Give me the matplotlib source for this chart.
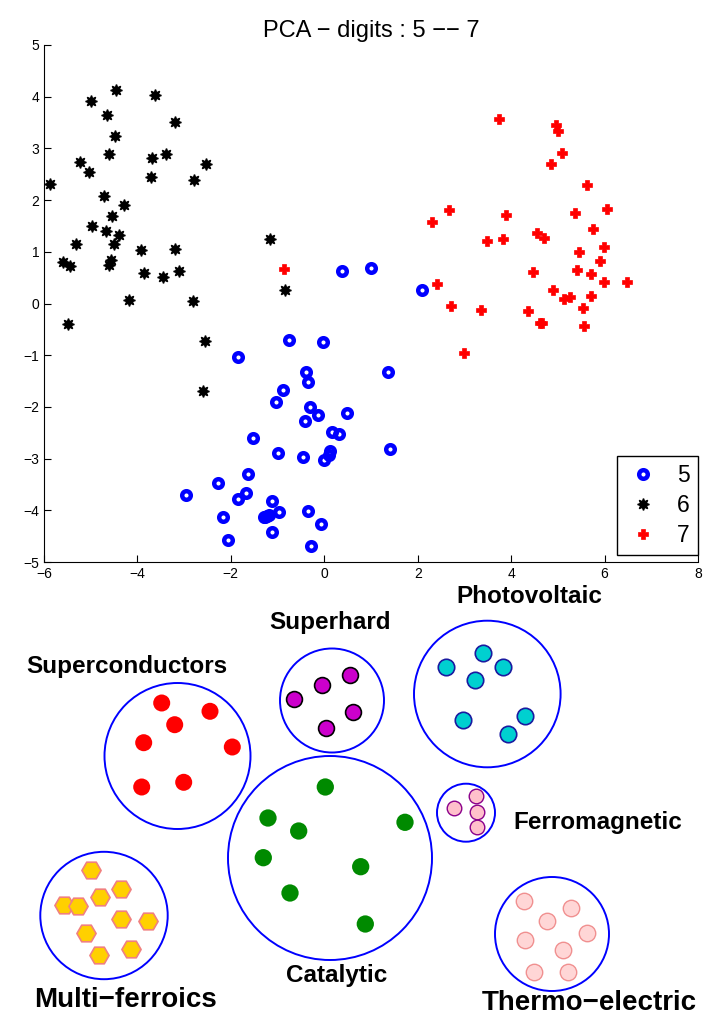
import matplotlib
matplotlib.use("Agg")
import matplotlib.pyplot as plt
from matplotlib.patches import Circle

plt.rcParams['font.family'] = ['Liberation Sans', 'DejaVu Sans']

# ---- PCA scatter data ----
x5 = [-0.76, -0.03, -1.84, -0.40, -0.34, 1.37, -0.89, -1.03, -0.31, -0.13, 0.48, -0.42,
      0.17, 0.31, -1.52, -1.00, -0.46, 0.13, 0.11, 0.00, 1.41, -1.64, -2.27, -2.95,
      -1.67, -1.85, -1.11, -0.96, -1.30, -1.23, -1.27, -1.18, -0.35, -2.16, -0.07,
      -1.12, -2.06, -0.29, 0.38, 0.99, 2.10]
y5 = [-0.70, -0.75, -1.04, -1.32, -1.51, -1.33, -1.68, -1.90, -2.00, -2.15, -2.12, -2.28,
      -2.49, -2.52, -2.61, -2.90, -2.96, -2.85, -2.94, -3.02, -2.82, -3.29, -3.48, -3.70,
      -3.66, -3.78, -3.82, -4.04, -4.13, -4.11, -4.12, -4.10, -4.01, -4.12, -4.27,
      -4.42, -4.57, -4.69, 0.63, 0.68, 0.27]

x6 = [-5.88, -5.00, -4.45, -3.62, -4.66, -4.48, -3.20, -5.24, -5.03, -4.60, -3.69, -3.38,
      -3.72, -2.79, -2.53, -4.71, -4.29, -4.55, -4.98, -4.68, -4.40, -4.51, -5.31, -5.60,
      -5.45, -4.57, -4.61, -3.93, -3.86, -3.45, -3.19, -3.10, -4.18, -2.80, -5.49, -2.56,
      -2.60, -1.16, -0.84]
y6 = [2.32, 3.91, 4.13, 4.04, 3.64, 3.24, 3.51, 2.73, 2.55, 2.90, 2.82, 2.90,
      2.45, 2.39, 2.69, 2.08, 1.90, 1.70, 1.50, 1.40, 1.33, 1.15, 1.15, 0.81,
      0.73, 0.85, 0.75, 1.03, 0.59, 0.52, 1.06, 0.62, 0.06, 0.05, -0.40, -0.72,
      -1.70, 1.24, 0.26]

x7 = [3.75, 4.95, 5.00, 5.09, 4.85, 5.62, 2.68, 2.30, 3.90, 5.36, 6.05, 5.76, 3.48, 3.83,
      4.55, 4.70, 5.98, 5.45, 5.91, 5.42, 5.70, 4.46, 5.98, 6.47, 2.42, 4.89, 5.70, 5.13,
      5.26, 2.71, 3.36, 4.36, 5.54, 4.62, 4.66, 5.57, 3.00, -0.86]
y7 = [3.57, 3.46, 3.33, 2.91, 2.70, 2.29, 1.81, 1.57, 1.72, 1.75, 1.82, 1.44, 1.21, 1.24,
      1.36, 1.26, 1.10, 0.99, 0.83, 0.64, 0.57, 0.61, 0.42, 0.41, 0.37, 0.26, 0.14, 0.08,
      0.12, -0.04, -0.12, -0.14, -0.08, -0.38, -0.38, -0.43, -0.95, 0.66]

# ---- material-class diagram (pixel layout of the lower panel) ----
group_names = ['Superconductors', 'Superhard', 'Photovoltaic', 'Catalytic',
               'Ferromagnetic', 'Multi\u2212ferroics', 'Thermo\u2212electric']
group_cx = [177.5, 332, 487.3, 330, 466, 104, 552]
group_cy = [756, 700.5, 694, 858, 812.7, 915.5, 934]
group_r = [73, 52, 73.3, 102, 29, 63.7, 57]
label_x = [127, 330, 529, 337, 598, 125, 589]
label_y = [667, 623, 597, 976, 823, 1000, 1003]
label_size = [17.5, 17.5, 17.5, 17.5, 17.5, 20, 20]

sc_x = [161.7, 210, 174.7, 143.7, 232.3, 141.7, 183.7]
sc_y = [703, 711.3, 724.7, 742.7, 747, 787, 782.3]
sh_x = [294.3, 322, 350, 352.7, 326.3]
sh_y = [698.7, 685, 675.3, 711.7, 728.3]
pv_x = [483.3, 445.7, 503.3, 475.3, 462.7, 524.7, 507.7]
pv_y = [652.7, 666.7, 667.3, 680.3, 720.3, 716, 733.7]
ca_x = [325.3, 268, 298.7, 405, 263.3, 360.7, 290, 365.3]
ca_y = [787, 818, 831, 822.3, 857.7, 866.7, 893, 924]
fm_x = [476, 454, 477, 477]
fm_y = [796, 808, 812, 827]
mf_x = [90.7, 121.3, 99.7, 63.7, 78, 121.3, 148, 86, 130.7, 99.3]
mf_y = [870, 888.7, 897.3, 905.3, 906.3, 919.3, 920.7, 932.7, 949.3, 955]
te_x = [524, 547, 571, 525, 587, 563, 534, 568]
te_y = [901, 921, 908, 940, 933, 950, 972, 972]

fig = plt.figure(figsize=(7.08, 10.16), dpi=100)

# top: PCA scatter
ax = fig.add_axes([44 / 708, 1 - 562 / 1016, (698 - 44) / 708, (562 - 45) / 1016])
ax.plot(x5, y5, 'o', color='blue', mfc='none', ms=6.2, mew=3.2, ls='none', label='5')
ax.plot(x6, y6, marker=(8, 1, 0), color='black', ms=8.5, mew=1.0, ls='none', label='6')
ax.plot(x7, y7, 'P', color='red', ms=7, mew=0.5, ls='none', label='7')
ax.set_xlim(-6, 8)
ax.set_ylim(-5, 5)
ax.set_xticks(range(-6, 9, 2))
ax.set_yticks(range(-5, 6))
ax.spines['top'].set_visible(False)
ax.spines['right'].set_visible(False)
ax.tick_params(direction='in', length=5, labelsize=10, width=0.8)
ax.set_title('PCA \u2212 digits : 5 \u2212\u2212 7', fontsize=17, pad=6)
leg = ax.legend(loc='lower right', bbox_to_anchor=(1.0, 0.014), borderaxespad=0,
                fontsize=16.5, fancybox=False, edgecolor='black', framealpha=1,
                handletextpad=0.7, labelspacing=0.3, borderpad=0.35, handlelength=1.6)
leg.get_frame().set_linewidth(1.0)

# bottom: diagram
bx = fig.add_axes([0, 0, 1, 426 / 1016])
bx.set_xlim(0, 708)
bx.set_ylim(1016, 590)
bx.axis('off')

for cx, cy, r in zip(group_cx, group_cy, group_r):
    bx.add_patch(Circle((cx, cy), r, fill=False, edgecolor='blue', lw=1.4))

bx.scatter(sc_x, sc_y, s=150, color='red', edgecolors='none')
bx.scatter(sh_x, sh_y, s=130, color='#cc00cc', edgecolors='black', linewidths=1.2)
bx.scatter(pv_x, pv_y, s=140, color='#00d0d0', edgecolors='#1a1aa0', linewidths=1.2)
bx.scatter(ca_x, ca_y, s=155, color='#008a00', edgecolors='none')
bx.scatter(fm_x, fm_y, s=110, color='#ffc0cb', edgecolors='#8b008b', linewidths=1.0)
bx.scatter(mf_x, mf_y, s=190, marker='H', color='#ffd000', edgecolors='#f08080', linewidths=1.2)
bx.scatter(te_x, te_y, s=140, color='#ffd6d6', edgecolors='#f09090', linewidths=1.0)

for name, lx, ly, fs in zip(group_names, label_x, label_y, label_size):
    bx.text(lx, ly, name, fontsize=fs, fontweight='bold', ha='center', va='center')

fig.savefig('out.png', dpi=100)
